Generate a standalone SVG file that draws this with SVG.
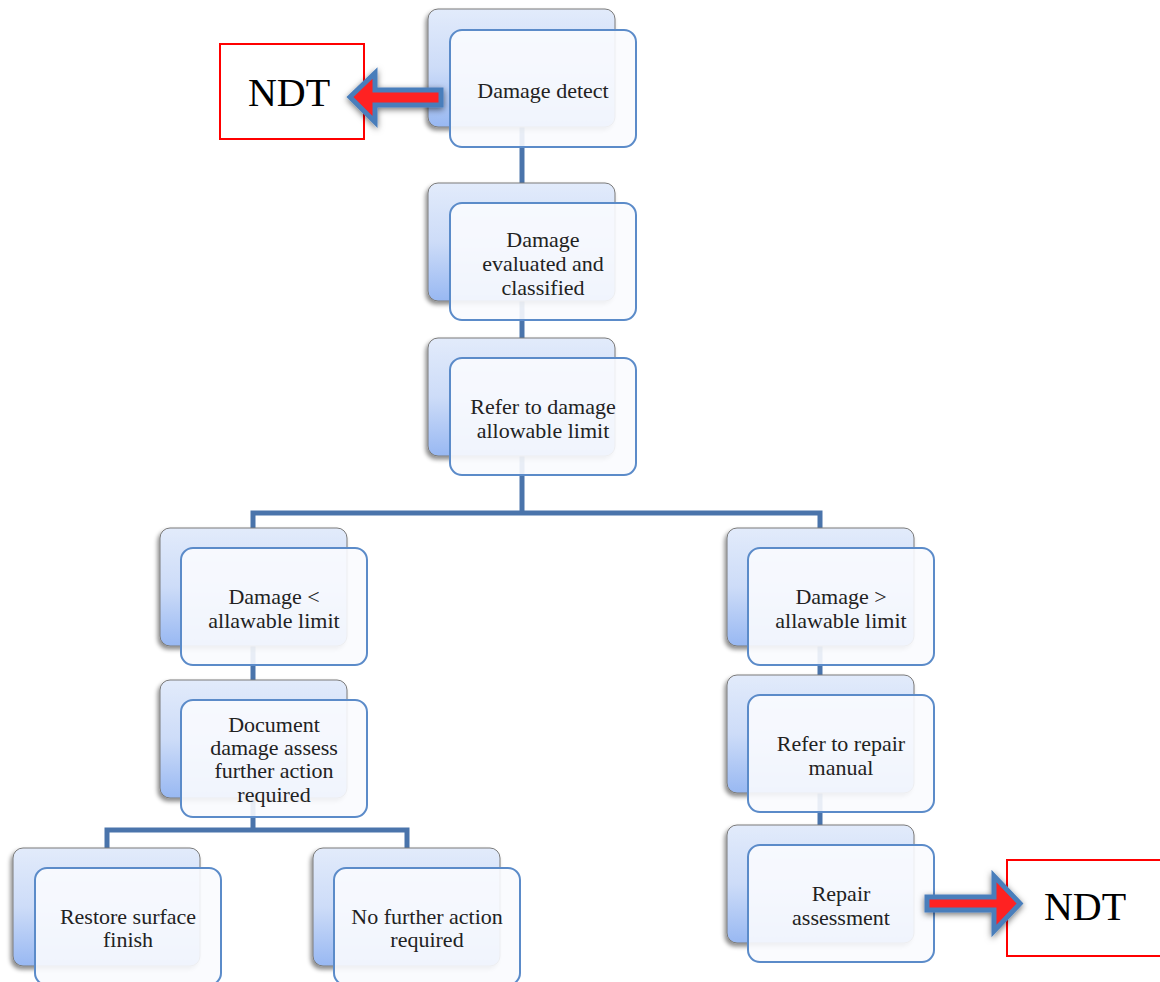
<svg xmlns="http://www.w3.org/2000/svg" width="1160" height="982" viewBox="0 0 1160 982">
<style>
.back{fill:url(#bg);stroke:#7a7a7a;stroke-width:1;filter:url(#sh)}
.front{fill:#f9fbfe;fill-opacity:0.9;stroke:#5b8bc9;stroke-width:2}
.t{font-family:"Liberation Serif","Times New Roman",serif;font-size:22px;fill:#222;text-anchor:middle}
.ndt{font-family:"Liberation Serif","Times New Roman",serif;font-size:40px;fill:#000;text-anchor:middle}
.conn{fill:none;stroke:#4a74ab;stroke-width:5}
.arrow{fill:#ff2020;stroke:#4a7ebb;stroke-width:5;stroke-linejoin:miter;filter:url(#ash)}
.box{fill:#fff;stroke:#ff0000;stroke-width:2}
</style>
<defs>
<linearGradient id="bg" x1="0" y1="0" x2="0" y2="1">
<stop offset="0" stop-color="#e2ebfb"/>
<stop offset="0.5" stop-color="#cddcf8"/>
<stop offset="1" stop-color="#98b8f2"/>
</linearGradient>
<filter id="sh" x="-20%" y="-20%" width="140%" height="140%">
<feDropShadow dx="-2" dy="3" stdDeviation="2" flood-color="#000" flood-opacity="0.45"/>
</filter>
<filter id="ash" x="-30%" y="-50%" width="160%" height="200%">
<feDropShadow dx="0" dy="2" stdDeviation="3" flood-color="#000" flood-opacity="0.55"/>
</filter>
</defs>
<rect width="1160" height="982" fill="#fff"/>
<g id="connectors">
<path class="conn" d="M522,127 V183"/>
<path class="conn" d="M522,301 V338"/>
<path class="conn" d="M522,456 V513 M253,528 V513 H820 V528"/>
<path class="conn" d="M253,646 V680"/>
<path class="conn" d="M253,798 V830 M107,848 V830 H407 V848"/>
<path class="conn" d="M820,646 V675"/>
<path class="conn" d="M820,793 V825"/>
</g>
<g id="ndt1">
<rect class="box" x="220" y="44" width="144" height="95"/>
<text class="ndt" x="289" y="106">NDT</text>
</g>
<g id="ndt2">
<rect class="box" x="1007" y="860" width="160" height="96"/>
<text class="ndt" x="1085" y="920">NDT</text>
</g>
<g id="n1">
<rect class="back" x="428" y="9" width="187" height="118" rx="10"/>
<rect class="front" x="450" y="30" width="186" height="117" rx="12"/>
<text class="t" x="543" y="98">Damage detect</text>
</g>
<g id="n2">
<rect class="back" x="428" y="183" width="187" height="118" rx="10"/>
<rect class="front" x="450" y="203" width="186" height="117" rx="12"/>
<text class="t" x="543" y="246.5">Damage</text>
<text class="t" x="543" y="270.5">evaluated and</text>
<text class="t" x="543" y="294.5">classified</text>
</g>
<g id="n3">
<rect class="back" x="428" y="338" width="187" height="118" rx="10"/>
<rect class="front" x="450" y="358" width="186" height="117" rx="12"/>
<text class="t" x="543" y="414">Refer to damage</text>
<text class="t" x="543" y="438">allowable limit</text>
</g>
<g id="n4">
<rect class="back" x="160" y="528" width="187" height="118" rx="10"/>
<rect class="front" x="181" y="548" width="186" height="117" rx="12"/>
<text class="t" x="274" y="604">Damage &lt;</text>
<text class="t" x="274" y="628">allawable limit</text>
</g>
<g id="n5">
<rect class="back" x="160" y="680" width="187" height="118" rx="10"/>
<rect class="front" x="181" y="700" width="186" height="117" rx="12"/>
<text class="t" x="274" y="732">Document</text>
<text class="t" x="274" y="755">damage assess</text>
<text class="t" x="274" y="778">further action</text>
<text class="t" x="274" y="802">required</text>
</g>
<g id="n6">
<rect class="back" x="13" y="848" width="187" height="118" rx="10"/>
<rect class="front" x="35" y="868" width="186" height="117" rx="12"/>
<text class="t" x="128" y="924">Restore surface</text>
<text class="t" x="128" y="947">finish</text>
</g>
<g id="n7">
<rect class="back" x="313" y="848" width="187" height="118" rx="10"/>
<rect class="front" x="334" y="868" width="186" height="117" rx="12"/>
<text class="t" x="427" y="924">No further action</text>
<text class="t" x="427" y="947">required</text>
</g>
<g id="n8">
<rect class="back" x="727" y="528" width="187" height="118" rx="10"/>
<rect class="front" x="748" y="548" width="186" height="117" rx="12"/>
<text class="t" x="841" y="604">Damage &gt;</text>
<text class="t" x="841" y="628">allawable limit</text>
</g>
<g id="n9">
<rect class="back" x="727" y="675" width="187" height="118" rx="10"/>
<rect class="front" x="748" y="695" width="186" height="117" rx="12"/>
<text class="t" x="841" y="751">Refer to repair</text>
<text class="t" x="841" y="775">manual</text>
</g>
<g id="n10">
<rect class="back" x="727" y="825" width="187" height="118" rx="10"/>
<rect class="front" x="748" y="845" width="186" height="117" rx="12"/>
<text class="t" x="841" y="901">Repair</text>
<text class="t" x="841" y="925">assessment</text>
</g>
<g id="arrows">
<polygon class="arrow" points="350,97 375,73 375,90 441,90 441,105 375,105 375,122"/>
<polygon class="arrow" points="927,897 994,897 994,876 1020,903.5 994,931 994,910 927,910"/>
</g>
</svg>
